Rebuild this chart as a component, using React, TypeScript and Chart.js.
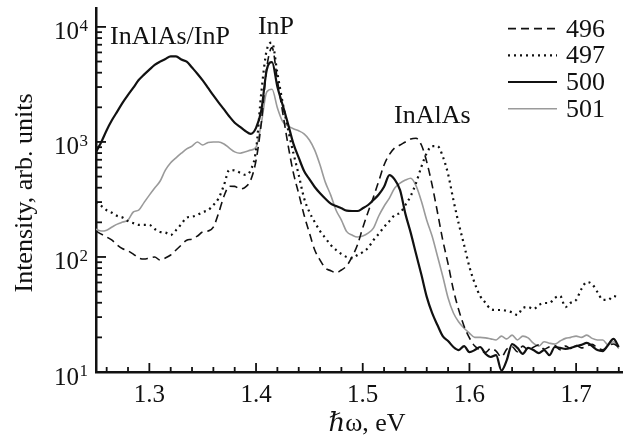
import { useEffect, useRef } from "react";
import { Chart, registerables } from "chart.js";

Chart.register(...registerables);

// Photon energy grid (eV)
const energy = [
  1.25, 1.255, 1.26, 1.265, 1.27, 1.275, 1.28, 1.285, 1.29, 1.295,
  1.3, 1.305, 1.31, 1.315, 1.32, 1.325, 1.33, 1.335, 1.34, 1.345,
  1.35, 1.355, 1.36, 1.365, 1.37, 1.375, 1.38, 1.385, 1.39, 1.395,
  1.4, 1.405, 1.41, 1.415, 1.42, 1.425, 1.43, 1.435, 1.44, 1.445,
  1.45, 1.455, 1.46, 1.465, 1.47, 1.475, 1.48, 1.485, 1.49, 1.495,
  1.5, 1.505, 1.51, 1.515, 1.52, 1.525, 1.53, 1.535, 1.54, 1.545,
  1.55, 1.555, 1.56, 1.565, 1.57, 1.575, 1.58, 1.585, 1.59, 1.595,
  1.6, 1.605, 1.61, 1.615, 1.62, 1.625, 1.63, 1.635, 1.64, 1.645,
  1.65, 1.655, 1.66, 1.665, 1.67, 1.675, 1.68, 1.685, 1.69, 1.695,
  1.7, 1.705, 1.71, 1.715, 1.72, 1.725, 1.73, 1.735, 1.74,
];

const s496 = [
  168, 158, 149, 140, 127, 118, 113, 106, 98, 96,
  98, 100, 94, 98, 104, 115, 127, 140, 143, 152,
  165, 168, 182, 242, 339, 412, 411, 390, 405, 466,
  690, 1480, 4400, 6600, 3440, 1800, 940, 538, 355, 232,
  162, 115, 94, 80, 76, 73, 77, 84, 100, 127,
  179, 246, 331, 456, 630, 778, 888, 940, 1000, 1060,
  1075, 940, 670, 423, 246, 140, 87, 51.7, 34.6, 25,
  19.8, 16.8, 15.5, 14.8, 16.0, 15.2, 13.5, 15.8, 16.6, 15.0,
  16.8, 15.5, 16.4, 17.2, 15.8, 16.6, 17.0, 15.6, 16.8, 16.0,
  17.0, 16.2, 16.8, 17.4, 16.2, 15.6, 16.8, 17.5, 16.4,
];

const s497 = [
  300, 278, 255, 242, 227, 220, 205, 197, 190, 190,
  190, 175, 165, 163, 155, 171, 193, 220, 224, 232,
  246, 255, 283, 325, 423, 570, 565, 540, 517, 569,
  849, 2720, 6270, 7300, 3960, 2180, 1285, 800, 517, 325,
  246, 201, 168, 146, 127, 115, 106, 100, 97.5, 104,
  110, 120, 140, 159, 182, 205, 232, 242, 283, 340,
  440, 610, 800, 920, 920, 750, 525, 312, 194, 127,
  82, 59, 45.8, 40, 35.2, 34.6, 34.6, 34, 33, 31.3,
  36, 36.7, 35.2, 38.2, 39.8, 39.8, 44, 45.8, 36.7, 40,
  42.3, 52.7, 60.5, 58, 49.6, 42.3, 42.3, 45.8, 44,
];

const s500 = [
  819, 1000, 1265, 1549, 1845, 2198, 2560, 2965, 3450, 3850,
  4250, 4670, 4990, 5260, 5550, 5550, 5200, 4990, 4430, 3920,
  3425, 2950, 2540, 2200, 1918, 1663, 1470, 1352, 1245, 1175,
  1325, 1897, 4230, 4950, 3020, 2085, 1432, 966, 730, 560,
  475, 406, 358, 321, 291, 277, 265, 253, 251, 251,
  265, 283, 313, 349, 408, 515, 470, 381, 237, 162,
  106, 70, 45, 32.6, 25.6, 20.5, 18.6, 16.5, 15.5, 16.8,
  14.9, 15.5, 16.5, 14.4, 13.5, 14, 10.3, 12.7, 17.5, 16.2,
  14.4, 16.2, 15.5, 14.6, 15.5, 14, 16.5, 16.2, 15.9, 16.2,
  16.8, 17.2, 17.9, 16.8, 15.5, 15.2, 17.2, 19.4, 16.5,
];

const s501 = [
  174, 168, 171, 182, 193, 201, 209, 246, 255, 297,
  345, 398, 455, 569, 660, 728, 798, 870, 920, 1000,
  940, 990, 1000, 1000, 960, 885, 820, 798, 820, 849,
  900, 1460, 2720, 2870, 1980, 1500, 1380, 1300, 1250, 1175,
  1040, 849, 630, 445, 345, 255, 209, 166, 155, 149,
  152, 161, 178, 227, 276, 325, 398, 438, 466, 483,
  415, 305, 209, 152, 102, 68, 44, 32.6, 27.2, 24,
  21.8, 20, 20, 19.8, 19.4, 19, 20.5, 19.4, 20.9, 19,
  20.5, 19.8, 17.8, 16.8, 18.3, 17.8, 17.5, 18.6, 19.6, 20,
  20.5, 20, 20.9, 19.6, 19, 19, 17.2, 18.3, 16,
];

const seriesLabels = ["496", "497", "500", "501"];

const xTickValues = [1.3, 1.4, 1.5, 1.6, 1.7];
const xTickLabels = ["1.3", "1.4", "1.5", "1.6", "1.7"];
const xMinorTicks = [
  1.26, 1.28, 1.3, 1.32, 1.34, 1.36, 1.38, 1.4, 1.42, 1.44, 1.46, 1.48, 1.5,
  1.52, 1.54, 1.56, 1.58, 1.6, 1.62, 1.64, 1.66, 1.68, 1.7, 1.72, 1.74,
];
const yTickValues = [10, 100, 1000, 10000];
const yTickExponents = ["1", "2", "3", "4"];
const yMinorTicks = [
  20, 30, 40, 50, 60, 70, 80, 90,
  200, 300, 400, 500, 600, 700, 800, 900,
  2000, 3000, 4000, 5000, 6000, 7000, 8000, 9000,
];

const annotationTexts = ["InAlAs/InP", "InP", "InAlAs"];
const annotationAnchors = [
  { x: 1.2631, y: 7050 },
  { x: 1.4018, y: 8710 },
  { x: 1.5293, y: 1470 },
];

const xTitle = ["ℏ", "ω, eV"];
const yTitle = "Intensity, arb. units";

const SERIF = '"Liberation Serif", "DejaVu Serif", "Times New Roman", serif';

const styles = [
  { color: "#111", width: 1.6, dash: [8, 5] },
  { color: "#111", width: 2.2, dash: [2, 4] },
  { color: "#111", width: 2.2, dash: [] as number[] },
  { color: "#9a9a9a", width: 1.6, dash: [] as number[] },
];

const decorPlugin = {
  id: "decor",
  afterDraw(chart: any) {
    const { ctx, chartArea: a, scales } = chart;
    const x = scales.x;
    const y = scales.y;
    ctx.save();
    ctx.strokeStyle = "#111";
    ctx.fillStyle = "#111";
    ctx.lineWidth = 1.8;
    // x tick marks (inward)
    xMinorTicks.forEach((v) => {
      const px = x.getPixelForValue(v);
      const major = xTickValues.some((m) => Math.abs(m - v) < 1e-6);
      ctx.beginPath();
      ctx.moveTo(px, a.bottom);
      ctx.lineTo(px, a.bottom - (major ? 9 : 5));
      ctx.stroke();
    });
    // y tick marks (inward)
    yTickValues.concat(yMinorTicks).forEach((v) => {
      const py = y.getPixelForValue(v);
      const major = yTickValues.includes(v);
      ctx.beginPath();
      ctx.moveTo(a.left, py);
      ctx.lineTo(a.left + (major ? 10 : 6), py);
      ctx.stroke();
    });
    // x tick labels
    ctx.font = `25px ${SERIF}`;
    ctx.textAlign = "center";
    ctx.textBaseline = "alphabetic";
    xTickValues.forEach((v, i) => {
      ctx.fillText(xTickLabels[i], x.getPixelForValue(v), a.bottom + 30);
    });
    // y tick labels with superscript
    yTickValues.forEach((v, i) => {
      const py = y.getPixelForValue(v);
      ctx.font = `25px ${SERIF}`;
      ctx.textAlign = "right";
      ctx.fillText("10", a.left - 17, py + 12.5);
      ctx.font = `17px ${SERIF}`;
      ctx.textAlign = "left";
      ctx.fillText(yTickExponents[i], a.left - 16.5, py + 4);
    });
    // x title
    ctx.textAlign = "left";
    ctx.font = `italic 26px ${SERIF}`;
    const w1 = ctx.measureText(xTitle[0]).width;
    ctx.font = `26px ${SERIF}`;
    const w2 = ctx.measureText(xTitle[1]).width;
    const tx = 367 - (w1 + w2) / 2;
    ctx.font = `italic 26px ${SERIF}`;
    ctx.fillText(xTitle[0], tx, a.bottom + 59);
    ctx.font = `26px ${SERIF}`;
    ctx.fillText(xTitle[1], tx + w1, a.bottom + 59);
    // y title
    ctx.save();
    ctx.translate(32, 193);
    ctx.rotate(-Math.PI / 2);
    ctx.textAlign = "center";
    ctx.font = `26px ${SERIF}`;
    ctx.fillText(yTitle, 0, 0);
    ctx.restore();
    // annotations
    ctx.font = `26px ${SERIF}`;
    ctx.textAlign = "left";
    annotationTexts.forEach((t, i) => {
      const an = annotationAnchors[i];
      ctx.fillText(t, x.getPixelForValue(an.x), y.getPixelForValue(an.y));
    });
    // legend
    seriesLabels.forEach((lab, i) => {
      const base = 36.6 + i * 26.7;
      const st = styles[i];
      ctx.save();
      ctx.strokeStyle = st.color;
      ctx.lineWidth = st.width;
      ctx.setLineDash(st.dash);
      ctx.beginPath();
      ctx.moveTo(508, base - 8);
      ctx.lineTo(557, base - 8);
      ctx.stroke();
      ctx.restore();
      ctx.font = `26px ${SERIF}`;
      ctx.fillStyle = "#111";
      ctx.fillText(lab, 566, base);
    });
    ctx.restore();
  },
};

export default function App() {
  const canvasRef = useRef<HTMLCanvasElement | null>(null);

  useEffect(() => {
    const canvas = canvasRef.current;
    if (!canvas) return;
    const series = [s496, s497, s500, s501];
    const orders = [2, 3, 1, 4];
    const chart = new Chart(canvas, {
      type: "line",
      data: {
        datasets: series.map((s, i) => ({
          label: seriesLabels[i],
          data: energy.map((e, k) => ({ x: e, y: s[k] })),
          borderColor: styles[i].color,
          borderWidth: styles[i].width,
          borderDash: styles[i].dash,
          pointRadius: 0,
          fill: false,
          tension: 0,
          cubicInterpolationMode: "monotone" as const,
          order: orders[i],
        })),
      },
      options: {
        responsive: false,
        animation: false,
        devicePixelRatio: 1,
        layout: { padding: { top: 8, right: 5, left: 0, bottom: 0 } },
        plugins: { legend: { display: false }, tooltip: { enabled: false } },
        scales: {
          x: {
            type: "linear",
            min: 1.25,
            max: 1.743,
            grid: { display: false, drawTicks: false, tickLength: 0 },
            border: { display: true, color: "#111", width: 2.5 },
            ticks: { display: false },
            afterFit: (s: any) => {
              s.height = 64;
            },
          },
          y: {
            type: "logarithmic",
            min: 10,
            max: 14600,
            grid: { display: false, drawTicks: false, tickLength: 0 },
            border: { display: true, color: "#111", width: 2.5 },
            ticks: { display: false },
            afterFit: (s: any) => {
              s.width = 96;
            },
          },
        },
      },
      plugins: [decorPlugin],
    });
    return () => chart.destroy();
  }, []);

  return (
    <div style={{ position: "absolute", left: 0, top: 0, width: 627, height: 436, background: "#fff" }}>
      <canvas ref={canvasRef} width={627} height={436} style={{ width: 627, height: 436, display: "block" }} />
    </div>
  );
}
